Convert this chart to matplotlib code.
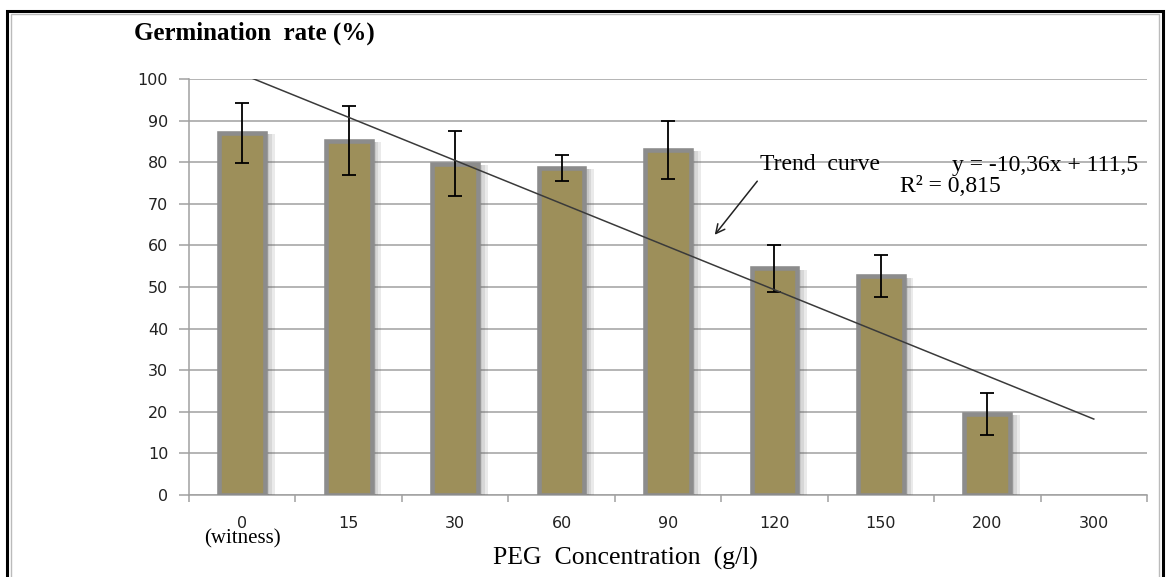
import numpy as np
import matplotlib
matplotlib.use("Agg")
import matplotlib.pyplot as plt
from matplotlib.patches import Rectangle
from matplotlib import patheffects as pe

# data
concentrations = ["0", "15", "30", "60", "90", "120", "150", "200", "300"]
germination = [87.0, 85.2, 79.6, 78.6, 83.0, 54.5, 52.6, 19.5, 0.0]
errors = [7.2, 8.3, 7.8, 3.2, 7.0, 5.6, 5.0, 5.0, 0.0]

# trend line as printed on the chart (x = 1..9)
slope = -10.36
intercept = 111.5

serif = ["Liberation Serif", "DejaVu Serif"]
bar_color = "#9d8f5a"
edge_color = "#8c8c8c"
grid_color = "#a0a0a0"

fig = plt.figure(figsize=(11.66, 5.77), dpi=100)
ax = fig.add_axes([189 / 1166, 1 - 495 / 577, (1147 - 189) / 1166, (495 - 79) / 577])

x = np.arange(len(concentrations))

bars = ax.bar(x, germination, width=0.43, color=bar_color, edgecolor=edge_color,
              linewidth=3.3, zorder=3)
# soft shadow on the right side, built from a few faint offset copies
shadow = [pe.SimplePatchShadow(offset=(d, -1), shadow_rgbFace="#555555", alpha=0.12)
          for d in (7, 5, 3)]
for b, v in zip(bars, germination):
    if v <= 0:
        b.set_visible(False)
        continue
    b.set_path_effects(shadow + [pe.Normal()])

err_x = [i for i in x if errors[i] > 0]
ax.errorbar(err_x, [germination[i] for i in err_x], yerr=[errors[i] for i in err_x],
            fmt="none", ecolor="black", elinewidth=1.3, capsize=5, capthick=1.3, zorder=4)

# trend line
tx = x + 1
ax.plot(x, slope * tx + intercept, color="#3a3a3a", lw=1.1, zorder=5)

ax.set_ylim(0, 100)
ax.set_xlim(-0.5, len(concentrations) - 0.5)
ax.set_yticks(np.arange(0, 101, 10))
ax.yaxis.grid(True, color=grid_color, lw=1.1, zorder=0)
ax.set_axisbelow(True)

# x ticks at category boundaries, labels at centres
ax.set_xticks(np.arange(-0.5, len(concentrations), 1.0))
ax.set_xticklabels([])
ax.set_xticks(x, minor=True)
ax.set_xticklabels(concentrations, minor=True, fontsize=11.5, color="#222222")
ax.tick_params(axis="x", which="major", length=5, color=grid_color, width=1.1)
ax.tick_params(axis="x", which="minor", length=0, pad=15)
ax.tick_params(axis="y", length=7, color=grid_color, width=1.1, pad=8,
               labelsize=11.5, labelcolor="#222222")

for s in ["top", "right"]:
    ax.spines[s].set_visible(False)
for s in ["left", "bottom"]:
    ax.spines[s].set_color(grid_color)
    ax.spines[s].set_linewidth(1.1)

ax.text(0, -0.105, "(witness)", transform=ax.get_xaxis_transform(), ha="center",
        va="center", fontsize=15, family=serif)

fig.text(254 / 1166, 1 - 33 / 577, "Germination  rate (%)", ha="center", va="center",
         fontsize=18, fontweight="bold", family=serif)
fig.text(625 / 1166, 1 - 558 / 577, "PEG  Concentration  (g/l)", ha="center",
         va="center", fontsize=18.5, family=serif)

# annotations
ax.annotate("", xy=(713, 577 - 237), xycoords="figure pixels",
            xytext=(759, 577 - 179), textcoords="figure pixels",
            arrowprops=dict(arrowstyle="->", color="#222222", lw=1.1,
                            mutation_scale=16))
fig.text(820 / 1166, 1 - 165 / 577, "Trend  curve", ha="center", va="center",
         fontsize=17, family=serif)
fig.text(1045 / 1166, 1 - 165 / 577, "y = -10,36x + 111,5", ha="center", va="center",
         fontsize=17, family=serif)
fig.text(950 / 1166, 1 - 187 / 577, "R² = 0,815", ha="center", va="center",
         fontsize=17, family=serif)

# frame around the picture
fig.add_artist(Rectangle((7 / 1166, -0.05), (1163 - 7) / 1166, 1.05 - 11 / 577,
                         transform=fig.transFigure, fill=False, ec="black", lw=2.2))
fig.add_artist(Rectangle((11 / 1166, -0.05), (1159 - 11) / 1166, 1.05 - 14 / 577,
                         transform=fig.transFigure, fill=False, ec="#bbbbbb", lw=1))

fig.savefig("out.png", dpi=100)
